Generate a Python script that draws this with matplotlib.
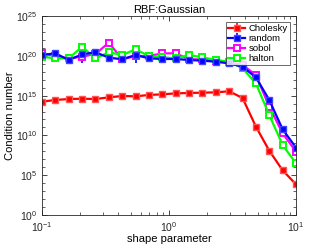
import numpy as np
import matplotlib
matplotlib.use('Agg')
import matplotlib.pyplot as plt
from matplotlib.ticker import LogLocator, FixedLocator, NullFormatter

plt.rcParams['font.family'] = ['Liberation Sans', 'DejaVu Sans']
plt.rcParams['mathtext.fontset'] = 'custom'
plt.rcParams['mathtext.rm'] = 'Liberation Sans'

## shape parameter values (20 points, log spaced from 0.1 to 10)
shape = np.logspace(-1, 1, 20)

## log10 of the condition numbers
chol_exp = [14.24, 14.45, 14.57, 14.61, 14.57, 14.78, 14.95, 14.91, 15.08, 15.16,
            15.28, 15.33, 15.37, 15.41, 15.54, 14.70, 11.10, 8.08, 5.61, 3.85]
random_exp = [20.10, 20.31, 19.47, 20.18, 20.44, 19.77, 19.56, 20.10, 19.68, 19.60,
              19.60, 19.47, 19.39, 19.26, 19.05, 18.63, 17.29, 14.45, 10.76, 8.46]
sobol_exp = [20.31, 19.97, 19.68, 19.89, 20.23, 21.65, 19.56, 19.97, 19.97, 20.31,
             20.31, 19.56, 19.56, 19.35, 19.26, 18.84, 17.59, 13.61, 10.26, 7.96]
halton_exp = [19.89, 19.68, 19.68, 21.15, 19.68, 20.44, 20.10, 20.81, 19.97, 19.81,
              19.68, 20.10, 19.81, 19.47, 19.26, 18.43, 16.54, 12.56, 8.79, 6.49]

## lower end of the error bars (log10), same length as the series
chol_low = [12.86, 14.35, 14.50, 14.52, 14.50, 14.70, 14.88, 14.85, 15.02, 15.10,
            15.22, 15.27, 15.31, 15.35, 15.48, 14.64, 11.05, 8.03, 5.56, 3.80]
random_low = [19.70, 19.90, 19.30, 19.10, 19.80, 19.30, 19.10, 19.10, 19.20, 19.10,
              19.10, 19.10, 19.10, 19.00, 18.80, 18.40, 17.10, 14.25, 10.56, 7.90]

def to_err(vals, low):
    v = 10.0 ** np.array(vals)
    lo = v - 10.0 ** np.array(low)
    hi = 0.15 * v
    return v, np.vstack([lo, hi])

chol, chol_err = to_err(chol_exp, chol_low)
rand, rand_err = to_err(random_exp, random_low)
sobol = 10.0 ** np.array(sobol_exp)
halton = 10.0 ** np.array(halton_exp)

fig = plt.figure(figsize=(3.27, 2.45), dpi=100)
ax = fig.add_axes([42 / 327, 30 / 245, 254 / 327, 199 / 245])

lw = 1.6
ms = 5
h1 = ax.errorbar(shape, chol, yerr=chol_err, color='#ff0000', lw=lw, marker='s', ms=ms,
                 mfc='#ff0000', mec='#ff5555', capsize=0, elinewidth=1.2, label='Cholesky')
h2 = ax.errorbar(shape, rand, yerr=rand_err, color='#0000ff', lw=lw, marker='s', ms=ms,
                 mfc='#0000ff', mec='#4444ff', capsize=0, elinewidth=1.2, label='random')
h3, = ax.plot(shape, sobol, color='#ff00ff', lw=lw, marker='s', ms=ms, mfc='white',
              mec='#ff00ff', mew=1.4, label='sobol')
h4, = ax.plot(shape, halton, color='#00ff00', lw=lw, marker='s', ms=ms, mfc='white',
              mec='#00ff00', mew=1.4, label='halton')

ax.set_xscale('log')
ax.set_yscale('log')
ax.set_xlim(0.1, 10)
ax.set_ylim(1, 1e25)
ax.yaxis.set_major_locator(FixedLocator([10.0 ** k for k in range(0, 26, 5)]))
ax.yaxis.set_major_formatter(matplotlib.ticker.FuncFormatter(
    lambda v, p: r'$10^{%d}$' % round(np.log10(v))))
ax.yaxis.set_minor_locator(FixedLocator([10.0 ** k for k in range(0, 26) if k % 5]))
ax.yaxis.set_minor_formatter(NullFormatter())
ax.xaxis.set_minor_locator(LogLocator(base=10, subs=np.arange(2, 10)))
ax.xaxis.set_minor_formatter(NullFormatter())

ax.tick_params(which='both', direction='in', top=True, right=True, labelsize=7.5,
               colors='#262626')
ax.tick_params(axis='y', pad=3)
ax.tick_params(axis='x', pad=4)
ax.tick_params(which='major', length=3.5, width=0.6)
ax.tick_params(which='minor', length=2, width=0.5)
for s in ax.spines.values():
    s.set_linewidth(0.6)
    s.set_color('#262626')

ax.set_title('RBF:Gaussian', fontsize=8, pad=2)
ax.set_xlabel('shape parameter', fontsize=8, labelpad=0)
ax.set_ylabel('Condition number', fontsize=8, labelpad=1)

leg = ax.legend([h1, h2, h3, h4], ['Cholesky', 'random', 'sobol', 'halton'],
                loc='upper right', fontsize=6.8, frameon=True, fancybox=False,
                edgecolor='#262626', borderpad=0.25, labelspacing=0.1,
                handlelength=1.8, handletextpad=0.4, borderaxespad=0.6, markerscale=0.8)
leg.get_frame().set_linewidth(0.6)

fig.savefig('out.png', dpi=100)
